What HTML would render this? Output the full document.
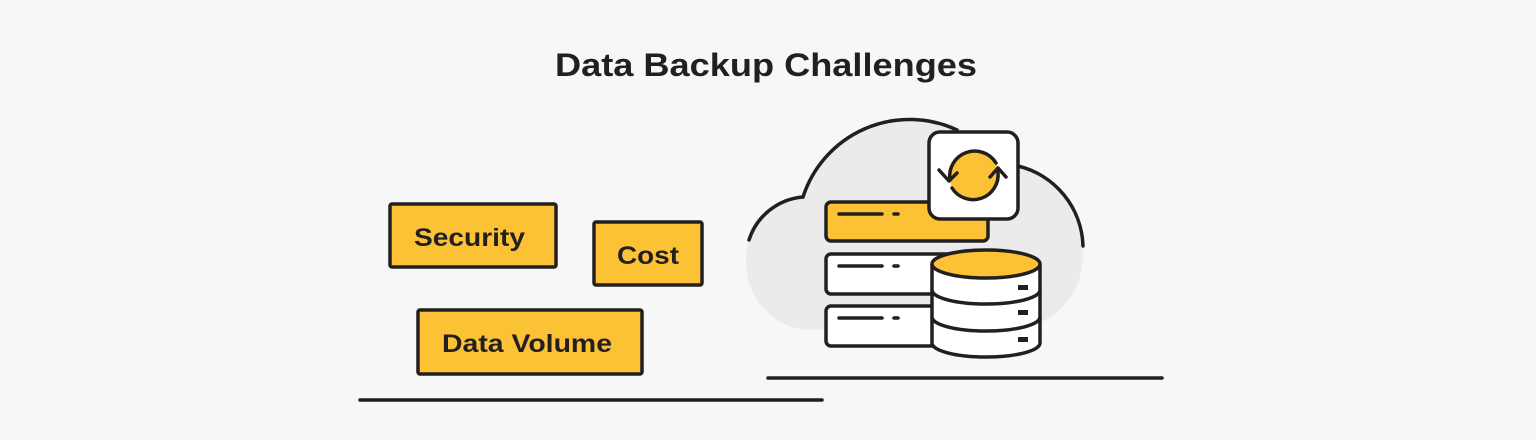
<!DOCTYPE html>
<html><head><meta charset="utf-8"><style>
html,body{margin:0;padding:0;background:#f7f7f7;}
svg{display:block}
text{font-family:"Liberation Sans",sans-serif;font-weight:bold;fill:#231f20}
</style></head><body>
<svg width="1536" height="440" viewBox="0 0 1536 440" xmlns="http://www.w3.org/2000/svg">
<rect width="1536" height="440" fill="#f7f7f7"/>
<text x="555" y="76" font-size="32" textLength="422" lengthAdjust="spacingAndGlyphs">Data Backup Challenges</text>

<g stroke="#231f20" stroke-width="3.5" fill="#fcc236">
<rect x="390" y="204" width="166" height="63" rx="2"/>
<rect x="594" y="222" width="108" height="63" rx="2"/>
<rect x="418" y="310" width="224" height="64" rx="2"/>
</g>
<text x="414" y="246" font-size="25" textLength="111" lengthAdjust="spacingAndGlyphs">Security</text>
<text x="617" y="264" font-size="25" textLength="62" lengthAdjust="spacingAndGlyphs">Cost</text>
<text x="442" y="352" font-size="25" textLength="170" lengthAdjust="spacingAndGlyphs">Data Volume</text>

<g stroke="#231f20" stroke-width="3.5" stroke-linecap="round">
<line x1="360" y1="400" x2="822" y2="400"/>
<line x1="768" y1="378" x2="1162" y2="378"/>
</g>

<path d="M805,330 L1010,330 A75,75 0 0 0 1083,250 A85,85 0 0 0 1018,166 L957,130 A112,112 0 0 0 803,197 A62,62 0 0 0 746,262 A68,68 0 0 0 805,330 Z" fill="#ebebeb"/>
<g fill="none" stroke="#231f20" stroke-width="3.5" stroke-linecap="round">
<path d="M749,240 A62,62 0 0 1 803,197"/>
<path d="M803,197 A112,112 0 0 1 957,130"/>
<path d="M1018,166 A85,85 0 0 1 1083,246"/>
</g>

<g stroke="#231f20" stroke-width="3.5">
<rect x="826" y="202" width="162" height="39" rx="5" fill="#fcc236"/>
<rect x="826" y="254" width="162" height="40" rx="5" fill="#fff"/>
<rect x="826" y="306" width="162" height="40" rx="5" fill="#fff"/>
</g>
<g stroke="#231f20" stroke-width="3.5" stroke-linecap="round">
<line x1="839" y1="214" x2="882" y2="214"/><line x1="894" y1="214" x2="898" y2="214"/>
<line x1="839" y1="266" x2="882" y2="266"/><line x1="894" y1="266" x2="898" y2="266"/>
<line x1="839" y1="318" x2="882" y2="318"/><line x1="894" y1="318" x2="898" y2="318"/>
</g>

<rect x="929" y="132" width="89" height="87" rx="11" fill="#fff" stroke="#231f20" stroke-width="3.5"/>
<circle cx="974" cy="175" r="25" fill="#fcc236"/>
<g fill="none" stroke="#231f20" stroke-width="3.5" stroke-linecap="round" stroke-linejoin="round">
<path d="M950,180 A25,25 0 0 1 996,163"/>
<path d="M998,172 A25,25 0 0 1 952,188"/>
<path d="M939,170 L949,181 L957,173"/>
<path d="M990,177 L998,168 L1006,177"/>
</g>

<g stroke="#231f20" stroke-width="3.5">
<path d="M932,264 L932,343 A54,14 0 0 0 1040,343 L1040,264" fill="#fff"/>
<path d="M932,290 A54,14 0 0 0 1040,290" fill="none"/>
<path d="M932,317 A54,14 0 0 0 1040,317" fill="none"/>
<ellipse cx="986" cy="264" rx="54" ry="14" fill="#fcc236"/>
</g>
<g fill="#231f20">
<rect x="1018" y="285" width="10" height="5"/>
<rect x="1018" y="310" width="10" height="5"/>
<rect x="1018" y="337" width="10" height="5"/>
</g>
</svg>
</body></html>
